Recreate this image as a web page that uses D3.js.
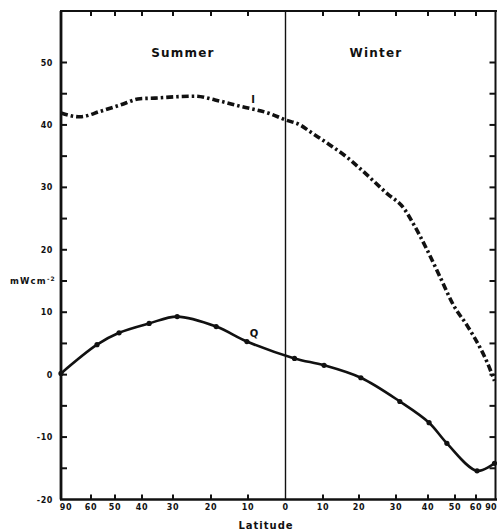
<!DOCTYPE html>
<html>
<head>
<meta charset="utf-8">
<script src="https://cdn.jsdelivr.net/npm/d3@7/dist/d3.min.js"></script>
<style>
  html, body { margin: 0; padding: 0; background: #fff; }
  svg { display: block; }
  text { font-family: "DejaVu Sans", "Liberation Sans", sans-serif; font-weight: bold; fill: #111; }
</style>
</head>
<body>
<svg id="chart" width="497" height="531"></svg>
<script>
// Latitude ticks: negative = summer hemisphere (left), positive = winter hemisphere (right)
const latitudeTicks = [-90, -60, -50, -40, -30, -20, -10, 0, 10, 20, 30, 40, 50, 60, 90];
const latitudeTickLabels = ["90", "60", "50", "40", "30", "20", "10", "0", "10", "20", "30", "40", "50", "60", "90"];
const fluxTicks = [-20, -10, 0, 10, 20, 30, 40, 50];
const fluxTickLabels = ["-20", "-10", "0", "10", "20", "30", "40", "50"];
const fluxMinorTicks = [-20, -15, -10, -5, 0, 5, 10, 15, 20, 25, 30, 35, 40, 45, 50];

// Curve I (dash-dot)
const iLatitudes = [-90, -71, -56, -48, -40.7, -35.8, -29.5, -24.2, -18.9, -12.2, -4.1, 0, 3.9, 6.6, 11.9, 16.7, 20.3, 27.6, 32.5, 35.6, 39.7, 44.4, 49.6, 55.7, 66.7, 78, 90];
const iValues    = [41.9, 41.3, 42.2, 43.2, 44.2, 44.3, 44.5, 44.6, 44.0, 43.0, 41.8, 40.8, 40.0, 38.9, 36.8, 34.8, 33.0, 29.0, 26.6, 24.0, 20.0, 15.7, 11.0, 7.9, 4.3, 2.0, -1.0];

// Curve Q (solid with dots)
const qLatitudes = [-90, -57.5, -48.5, -37.7, -28.9, -18.6, -10.3, 2.4, 10.3, 20.5, 31.2, 40.4, 47, 61.7, 90];
const qValues    = [0.2, 4.8, 6.7, 8.2, 9.3, 7.7, 5.3, 2.6, 1.5, -0.5, -4.3, -7.7, -11.0, -15.4, -14.2];

// ---- layout ----
const plotLeft = 61, plotRight = 495.5, plotTop = 11, plotBottom = 499.5;
// horizontal pixel position of each latitude tick (non-uniform latitude axis)
const latitudeTickPx = [61, 91, 115, 142, 173, 211, 248, 285.5, 323, 359, 396, 428, 455, 476, 494.5];

const x = d3.scaleLinear().domain(latitudeTicks).range(latitudeTickPx);
const y = d3.scaleLinear().domain([-20, 50]).range([plotBottom, 62.5]);

const svg = d3.select("#chart");

// frame
const frame = svg.append("g").attr("stroke", "#111").attr("fill", "none");
frame.append("line").attr("x1", plotLeft).attr("x2", plotLeft).attr("y1", plotTop).attr("y2", plotBottom).attr("stroke-width", 2.8);
frame.append("line").attr("x1", plotLeft - 1).attr("x2", 497).attr("y1", plotTop).attr("y2", plotTop).attr("stroke-width", 2);
frame.append("line").attr("x1", plotLeft - 1).attr("x2", 497).attr("y1", plotBottom).attr("y2", plotBottom).attr("stroke-width", 2.6);
frame.append("line").attr("x1", plotRight).attr("x2", plotRight).attr("y1", plotTop).attr("y2", plotBottom).attr("stroke-width", 2);

// equator divider
svg.append("line")
  .attr("x1", x(0)).attr("x2", x(0))
  .attr("y1", plotTop).attr("y2", plotBottom)
  .attr("stroke", "#111").attr("stroke-width", 1.4);

// latitude ticks (bottom, pointing up) and (top, pointing down)
const xtickLen = 5;
const innerLatTicks = latitudeTicks.filter(d => d !== -90 && d !== 0 && d !== 90);
svg.append("g").selectAll("line")
  .data(innerLatTicks)
  .join("line")
  .attr("x1", d => x(d)).attr("x2", d => x(d))
  .attr("y1", plotBottom).attr("y2", plotBottom - xtickLen)
  .attr("stroke", "#111").attr("stroke-width", 2);
svg.append("g").selectAll("line")
  .data(innerLatTicks)
  .join("line")
  .attr("x1", d => x(d)).attr("x2", d => x(d))
  .attr("y1", plotTop).attr("y2", plotTop + xtickLen)
  .attr("stroke", "#111").attr("stroke-width", 2);

// latitude labels (end labels nudged inward to stay on the page)
const lastLat = latitudeTicks.length - 1;
svg.append("g").selectAll("text")
  .data(latitudeTicks)
  .join("text")
  .attr("x", (d, i) => i === 0 ? x(d) + 5 : (i === lastLat ? 496.5 : x(d)))
  .attr("y", 510)
  .attr("text-anchor", (d, i) => i === lastLat ? "end" : "middle")
  .attr("font-size", 8)
  .attr("letter-spacing", (d, i) => i === lastLat ? 0 : 0.6)
  .text((d, i) => latitudeTickLabels[i]);

// flux ticks: left (pointing right) and right (pointing left)
const ytickLen = 6;
const innerFluxTicks = fluxMinorTicks.filter(d => d !== -20);
svg.append("g").selectAll("line")
  .data(innerFluxTicks)
  .join("line")
  .attr("x1", plotLeft).attr("x2", plotLeft + ytickLen)
  .attr("y1", d => y(d)).attr("y2", d => y(d))
  .attr("stroke", "#111").attr("stroke-width", 2);
svg.append("g").selectAll("line")
  .data(innerFluxTicks)
  .join("line")
  .attr("x1", plotRight).attr("x2", plotRight - ytickLen)
  .attr("y1", d => y(d)).attr("y2", d => y(d))
  .attr("stroke", "#111").attr("stroke-width", 2);

svg.append("g").selectAll("text")
  .data(fluxTicks)
  .join("text")
  .attr("x", 53)
  .attr("y", d => y(d) + 3)
  .attr("text-anchor", "end")
  .attr("font-size", 8)
  .attr("letter-spacing", 0.6)
  .text((d, i) => fluxTickLabels[i]);

// unit label at the 15 position
const unit = svg.append("text")
  .attr("x", 56).attr("y", y(15) + 3)
  .attr("text-anchor", "end")
  .attr("font-size", 8.5)
  .attr("letter-spacing", 1.2);
unit.append("tspan").text("mWcm");
unit.append("tspan").attr("font-size", 6).attr("dy", -3).text("-2");

// season titles
svg.append("text").attr("x", 183).attr("y", 57).attr("text-anchor", "middle")
  .attr("font-size", 12).attr("letter-spacing", 1.2).text("Summer");
svg.append("text").attr("x", 376).attr("y", 57).attr("text-anchor", "middle")
  .attr("font-size", 12).attr("letter-spacing", 1.2).text("Winter");

// axis title
svg.append("text").attr("x", 266).attr("y", 529).attr("text-anchor", "middle")
  .attr("font-size", 10).attr("letter-spacing", 1).text("Latitude");

// curves
const iLine = d3.line().curve(d3.curveMonotoneX);
const qLine = d3.line().curve(d3.curveCatmullRom.alpha(0.5));

const iPts = iLatitudes.map((d, i) => [x(d), y(iValues[i])]);
svg.append("path")
  .attr("d", iLine(iPts))
  .attr("fill", "none").attr("stroke", "#111")
  .attr("stroke-width", 3.6)
  .attr("stroke-dasharray", "7,3,2.5,3");

const qPts = qLatitudes.map((d, i) => [x(d), y(qValues[i])]);
svg.append("path")
  .attr("d", qLine(qPts))
  .attr("fill", "none").attr("stroke", "#111")
  .attr("stroke-width", 2.6);
svg.append("g").selectAll("circle")
  .data(qPts)
  .join("circle")
  .attr("cx", d => d[0]).attr("cy", d => d[1]).attr("r", 2.6)
  .attr("fill", "#111");

// curve labels
svg.append("text").attr("x", 253).attr("y", 103).attr("text-anchor", "middle")
  .attr("font-size", 10).text("I");
svg.append("text").attr("x", 254).attr("y", 337).attr("text-anchor", "middle")
  .attr("font-size", 10).text("Q");
</script>
</body>
</html>
